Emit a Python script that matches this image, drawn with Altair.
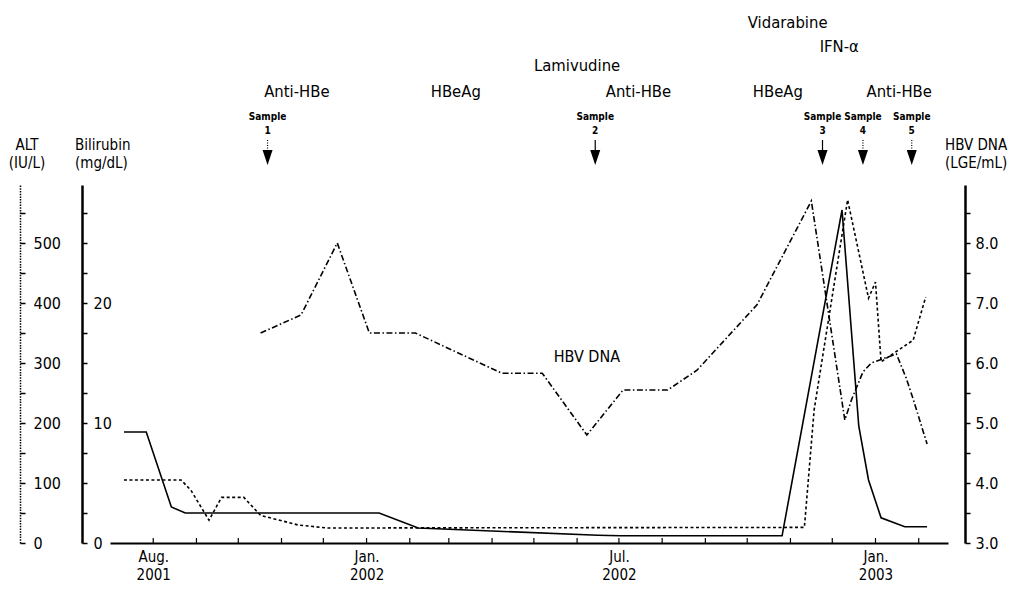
import altair as alt
import pandas as pd

# ---------------- data ----------------
alt_dates = ["2001-07-11", "2001-07-27", "2001-08-14", "2001-08-24", "2001-09-13",
             "2001-10-03", "2001-11-13", "2002-01-10", "2002-02-07", "2002-06-16",
             "2002-07-02", "2002-10-26", "2002-12-08", "2002-12-20", "2002-12-27",
             "2003-01-05", "2003-01-22", "2003-02-07"]
alt_values = [185, 185, 60, 50, 50, 50, 50, 50, 25, 13, 12, 12, 555, 195, 105, 42, 27, 27]

bil_dates = ["2001-07-11", "2001-08-21", "2001-08-28", "2001-09-10", "2001-09-19",
             "2001-10-05", "2001-10-17", "2001-11-13", "2001-12-04", "2002-11-11",
             "2002-11-18", "2002-12-12", "2002-12-27", "2003-01-01", "2003-01-05",
             "2003-01-28", "2003-02-06"]
bil_values = [5.25, 5.25, 4.4, 1.9, 3.8, 3.8, 2.3, 1.5, 1.25, 1.3, 11.1, 28.6, 20.4,
              21.75, 15.1, 16.9, 20.5]

hbv_dates = ["2001-10-17", "2001-11-15", "2001-12-11", "2002-01-03", "2002-02-05",
             "2002-04-08", "2002-05-07", "2002-06-08", "2002-07-04", "2002-08-05",
             "2002-08-26", "2002-10-08", "2002-11-16", "2002-12-10", "2002-12-15",
             "2002-12-23", "2002-12-29", "2003-01-16", "2003-01-23", "2003-01-28",
             "2003-02-07"]
hbv_values = [6.5, 6.8, 8.0, 6.5, 6.5, 5.83, 5.83, 4.8, 5.55, 5.55, 5.88, 6.97, 8.7,
              5.05, 5.4, 5.85, 6.0, 6.15, 5.75, 5.4, 4.65]

marker_dates = ["2001-11-12", "2002-03-06", "2002-07-15", "2002-10-23", "2003-01-18"]
marker_labels = ["Anti-HBe", "HBeAg", "Anti-HBe", "HBeAg", "Anti-HBe"]

drug_dates = ["2002-06-01", "2002-10-30", "2002-12-06"]
drug_labels = ["Lamivudine", "Vidarabine", "IFN-α"]

sample_dates = ["2001-10-22", "2002-06-14", "2002-11-24", "2002-12-23", "2003-01-27"]
sample_numbers = ["1", "2", "3", "4", "5"]
sample_stems = ["dotted", "solid", "solid", "dotted", "dotted"]

month_ticks = ["2001-08-01", "2001-09-01", "2001-10-01", "2001-11-01", "2001-12-01",
               "2002-01-01", "2002-02-01", "2002-03-01", "2002-04-01", "2002-05-01",
               "2002-06-01", "2002-07-01", "2002-08-01", "2002-09-01", "2002-10-01",
               "2002-11-01", "2002-12-01", "2003-01-01", "2003-02-01"]
labeled_months = ["2001-08", "2002-01", "2002-07", "2003-01"]

alt_ticks = [0, 50, 100, 150, 200, 250, 300, 350, 400, 450, 500, 550]
bil_ticks = [0, 2.5, 5, 7.5, 10, 12.5, 15, 17.5, 20, 22.5, 25, 27.5]
hbv_ticks = [3.0, 3.5, 4.0, 4.5, 5.0, 5.5, 6.0, 6.5, 7.0, 7.5, 8.0, 8.5]

# ---------------- layout ----------------
W, H = 838, 358
FONT = "DejaVu Sans Condensed, DejaVu Sans"


def dt(s):
    y, m, d = (int(v) for v in s.split("-"))
    return alt.DateTime(year=y, month=m, date=d)


alt_df = pd.DataFrame({"date": alt_dates, "value": alt_values})
bil_df = pd.DataFrame({"date": bil_dates, "value": bil_values})
hbv_df = pd.DataFrame({"date": hbv_dates, "value": hbv_values})
marker_df = pd.DataFrame({"date": marker_dates, "label": marker_labels})
sample_df = pd.DataFrame({"date": sample_dates, "num": sample_numbers, "stem": sample_stems})
month_df = pd.DataFrame({"date": month_ticks})

label_list = ",".join(f"'{m}'" for m in labeled_months)
x_axis = alt.Axis(
    values=[dt(d) for d in month_ticks],
    labelExpr=(f"indexof([{label_list}], timeFormat(datum.value, '%Y-%m')) >= 0 ? "
               "[timeFormat(datum.value, '%b') + '.', timeFormat(datum.value, '%Y')] : ''"),
    ticks=False, tickSize=0, grid=False,
    domainColor="black", domainWidth=2,
    labelFont=FONT, labelFontSize=15, labelColor="black",
    labelPadding=6, labelLineHeight=18, labelAlign="center", labelBaseline="top",
    labelOverlap=False, labelFlush=False, title=None,
)
x_enc = alt.X("date:T", scale=alt.Scale(domain=[dt("2001-07-01"), dt("2003-02-22")]),
              axis=x_axis)
x_plain = alt.X("date:T", scale=alt.Scale(domain=[dt("2001-07-01"), dt("2003-02-22")]))

common_axis = dict(grid=False, tickColor="black", tickWidth=1.5, tickSize=5,
                   domainColor="black", labelFont=FONT, labelFontSize=16,
                   labelColor="black", labelOverlap=False, labelFlush=False, title=None)

alt_line = alt.Chart(alt_df).mark_line(color="black", strokeWidth=1.6).encode(
    x=x_enc,
    y=alt.Y("value:Q", scale=alt.Scale(domain=[0, H / 0.6], nice=False, zero=False),
            axis=alt.Axis(orient="right", offset=-(W + 90), values=alt_ticks,
                          labelExpr="datum.value % 100 == 0 ? format(datum.value, 'd') : ''",
                          labelPadding=8, domainWidth=1.5, domainDash=[1.5, 1.2],
                          **common_axis)),
)

bil_line = alt.Chart(bil_df).mark_line(color="black", strokeWidth=1.6,
                                       strokeDash=[3, 2.5]).encode(
    x=x_plain,
    y=alt.Y("value:Q", scale=alt.Scale(domain=[0, H / 12], nice=False, zero=False),
            axis=alt.Axis(orient="right", offset=-(W + 28), values=bil_ticks,
                          labelExpr="datum.value % 10 == 0 ? format(datum.value, 'd') : ''",
                          labelPadding=6, domainWidth=2.5, **common_axis)),
)

hbv_scale = alt.Scale(domain=[3, 3 + H / 60], nice=False, zero=False)
hbv_line = alt.Chart(hbv_df).mark_line(color="black", strokeWidth=1.6,
                                       strokeDash=[6, 2.5, 1.5, 2.5]).encode(
    x=x_plain,
    y=alt.Y("value:Q", scale=hbv_scale,
            axis=alt.Axis(orient="right", offset=17, values=hbv_ticks,
                          labelExpr="datum.value % 1 == 0 ? format(datum.value, '.1f') : ''",
                          labelPadding=5, domainWidth=2.5, **common_axis)),
)

hbv_label = alt.Chart(pd.DataFrame({"date": ["2002-06-08"], "value": [6.1], "t": ["HBV DNA"]})
                      ).mark_text(font=FONT, fontSize=16, color="black").encode(
    x=x_plain, y=alt.Y("value:Q", scale=hbv_scale, axis=None), text="t:N")

ticks = alt.Chart(month_df).mark_rule(color="black", strokeWidth=1.2).encode(
    x=x_plain, y=alt.value(H - 5), y2=alt.value(H))

markers = alt.Chart(marker_df).mark_text(font=FONT, fontSize=16.5, color="black").encode(
    x=x_plain, y=alt.value(-93), text="label:N")

drug_y = [-119, -162, -138]
drug_layers = [
    alt.Chart(pd.DataFrame({"date": [d], "label": [l]})).mark_text(
        font=FONT, fontSize=16.5, color="black").encode(
        x=x_plain, y=alt.value(yy), text="label:N")
    for d, l, yy in zip(drug_dates, drug_labels, drug_y)
]

sample_word = alt.Chart(sample_df).mark_text(font=FONT, fontSize=10, fontWeight="bold",
                                             color="black").encode(
    x=x_plain, y=alt.value(-68), text=alt.value("Sample"))
sample_num = alt.Chart(sample_df).mark_text(font=FONT, fontSize=10, fontWeight="bold",
                                            color="black").encode(
    x=x_plain, y=alt.value(-54), text="num:N")
stems = alt.Chart(sample_df).mark_rule(color="black", strokeWidth=1.2).encode(
    x=x_plain, y=alt.value(-45), y2=alt.value(-35),
    strokeDash=alt.StrokeDash("stem:N", scale=alt.Scale(domain=["solid", "dotted"],
                                                        range=[[1, 0], [1, 1.5]]),
                              legend=None))
arrows = alt.Chart(sample_df).mark_point(
    shape="M-0.67,-1L0.67,-1L0,1Z", filled=True, fill="black", opacity=1,
    size=225, strokeWidth=0).encode(x=x_plain, y=alt.value(-27.5))

titles = []
for txt, xx, yy, al in [("ALT", -83, -40, "center"), ("(IU/L)", -83, -22, "center"),
                        ("Bilirubin", -35, -40, "left"), ("(mg/dL)", -35, -22, "left"),
                        ("HBV DNA", 835, -40, "left"), ("(LGE/mL)", 835, -22, "left")]:
    titles.append(alt.Chart(pd.DataFrame({"t": [txt]})).mark_text(
        font=FONT, fontSize=15, color="black", align=al).encode(
        x=alt.value(xx), y=alt.value(yy), text="t:N"))

chart = alt.layer(
    alt_line, bil_line, hbv_line, hbv_label, ticks, markers, *drug_layers,
    sample_word, sample_num, stems, arrows, *titles
).resolve_scale(y="independent").properties(
    width=W, height=H,
    padding={"left": 102, "top": 177, "right": 62, "bottom": 40},
    autosize=alt.AutoSizeParams(type="none"),
    background="white",
).configure_view(stroke=None)

chart.save("out.html", embed_options={"renderer": "svg", "actions": False})
